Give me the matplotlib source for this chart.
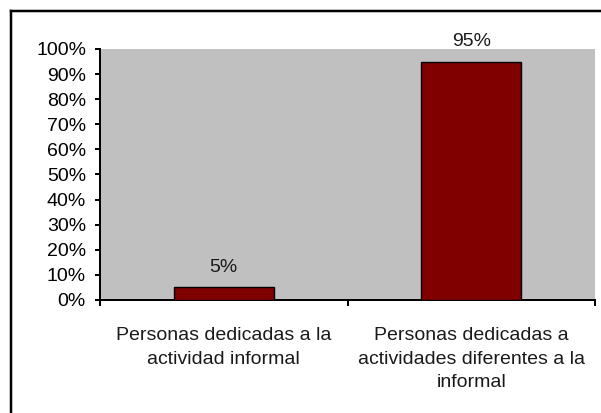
import matplotlib
matplotlib.use("Agg")
import matplotlib.pyplot as plt
from matplotlib.lines import Line2D

categories = ["Personas dedicadas a la\nactividad informal",
              "Personas dedicadas a\nactividades diferentes a la\ninformal"]
values = [5, 95]
value_labels = ["5%", "95%"]
yticks = list(range(0, 101, 10))
ytick_labels = [f"{t}%" for t in yticks]

W, H = 601, 413
fig = plt.figure(figsize=(W / 100, H / 100), dpi=100)
plt.rcParams['font.family'] = ['Liberation Sans', 'DejaVu Sans']
fs = 14
px = 0.72  # points per pixel at 100 dpi

ax = fig.add_axes([100 / W, (H - 300) / H, (595 - 100) / W, (300 - 49) / H])
ax.set_facecolor("#C0C0C0")
x = list(range(len(categories)))
bars = ax.bar(x, values, width=0.405, color="#800000", edgecolor="black", linewidth=1.0, zorder=3)
for xi, v, lab in zip(x, values, value_labels):
    ax.annotate(lab, (xi, v), xytext=(0, 20 * px), textcoords="offset points",
                ha="center", va="center", fontsize=fs, color="#1a1a1a")

ax.set_xlim(-0.5, len(categories) - 0.5)
ax.set_ylim(0, 100)
ax.set_yticks(yticks)
ax.set_yticklabels(ytick_labels, fontsize=fs)
ax.set_xticks(x)
ax.set_xticklabels(categories, fontsize=fs, linespacing=1.5, color="#1a1a1a")
ax.set_xticks([-0.5, 0.5, 1.5], minor=True)
ax.tick_params(axis="x", which="major", length=0, pad=19.5)
ax.tick_params(axis="x", which="minor", length=6 * px, width=2 * px, direction="out")
ax.tick_params(axis="y", length=5 * px, width=2 * px, direction="out", pad=9 * px)
for s in ["top", "right"]:
    ax.spines[s].set_visible(False)
for s in ["left", "bottom"]:
    ax.spines[s].set_linewidth(2 * px)
    ax.spines[s].set_color("black")

# outer frame (top and left edges visible)
fig.add_artist(Line2D([11 / W, 1.01], [1 - 11 / H, 1 - 11 / H], transform=fig.transFigure,
                      color="black", linewidth=2.5 * px))
fig.add_artist(Line2D([11 / W, 11 / W], [-0.01, 1 - 11 / H], transform=fig.transFigure,
                      color="black", linewidth=2.5 * px))

fig.savefig("out.png", dpi=100)
